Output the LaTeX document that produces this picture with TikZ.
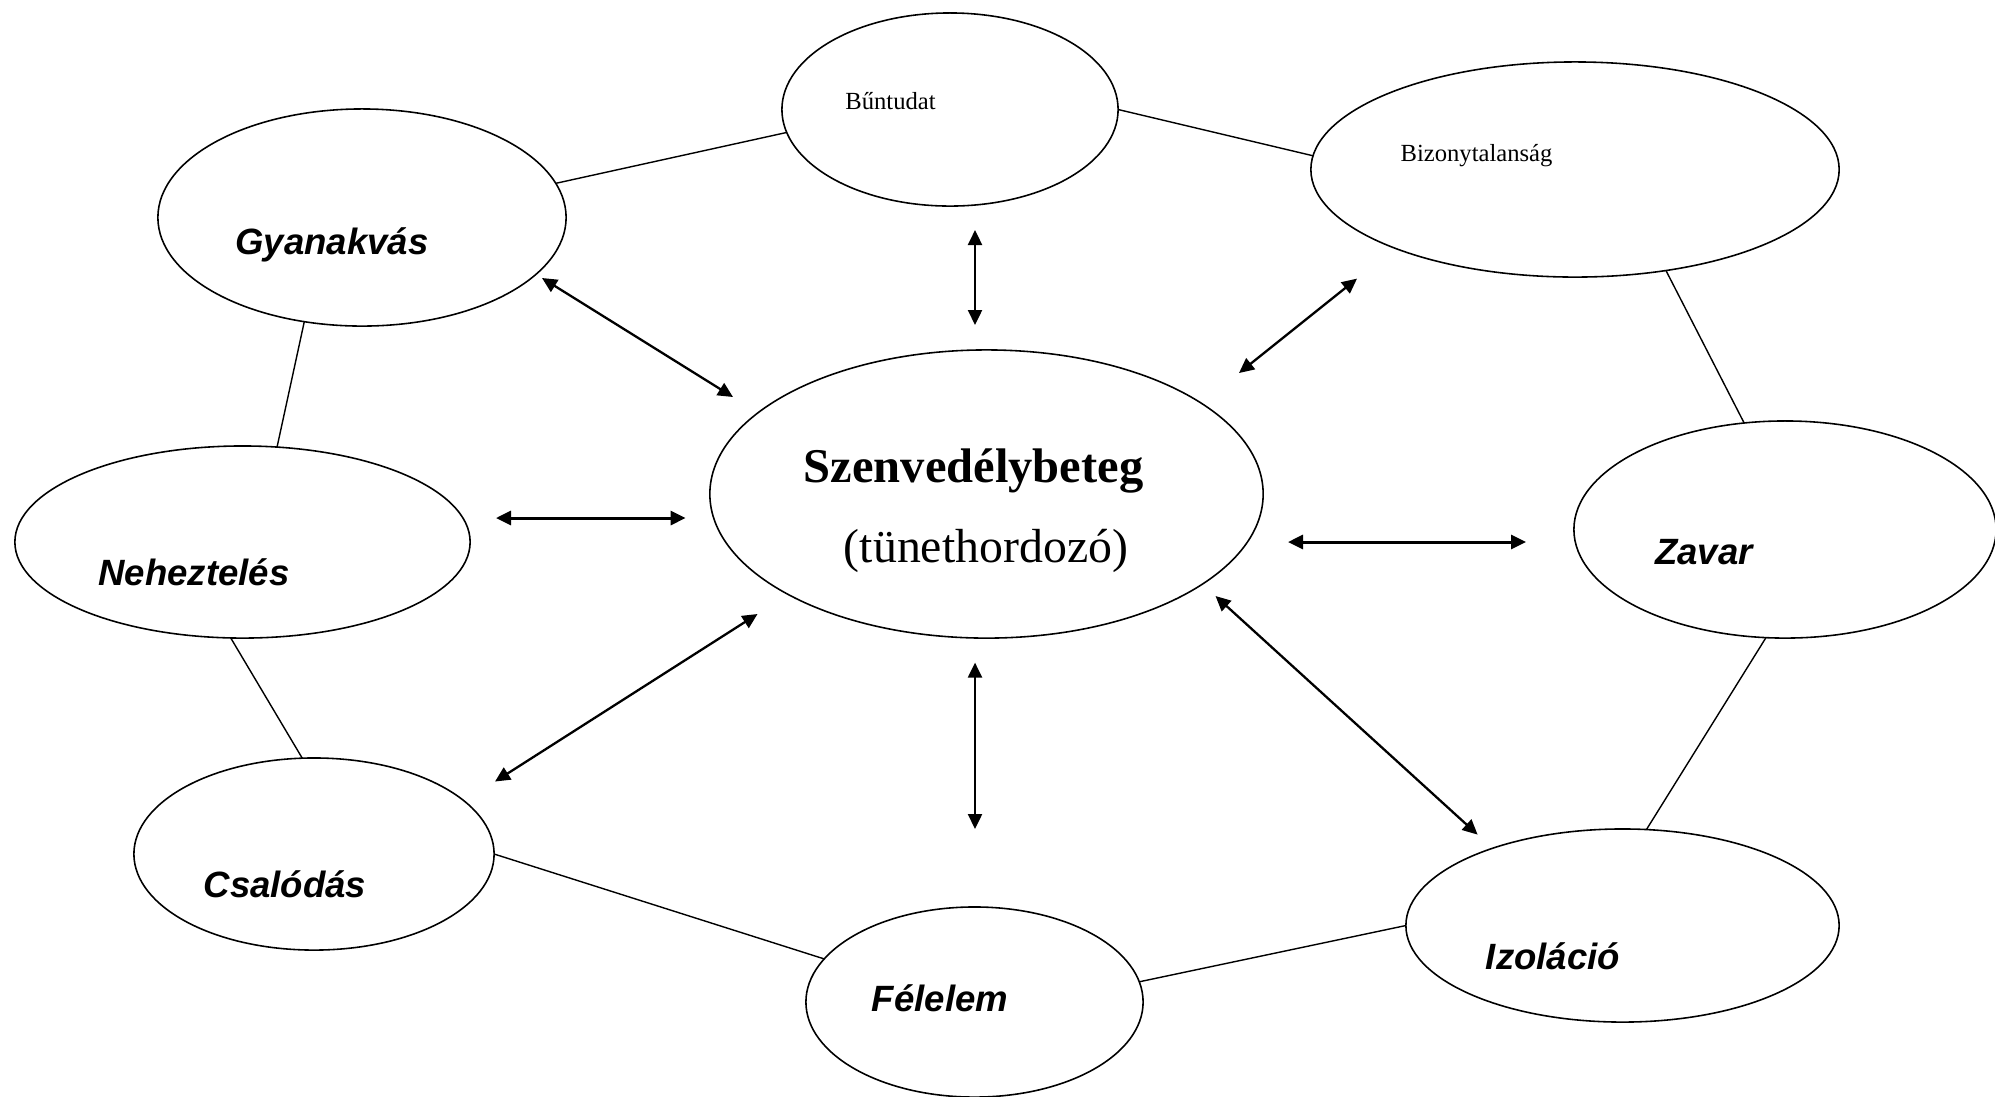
\documentclass[tikz,border=0pt]{standalone}
\usepackage{fontspec}
\setmainfont{Liberation Serif}
\newfontfamily\arialf{Liberation Sans}
\usetikzlibrary{shapes.geometric,arrows.meta}
\tikzset{
  ell/.style={ellipse, draw, line width=0.45pt, inner sep=0pt, outer sep=0pt},
  link/.style={line width=0.4pt},
  dbl/.style={line width=0.65pt, {Triangle[length=0.15cm,width=0.14cm]}-{Triangle[length=0.15cm,width=0.14cm]}},
  dblh/.style={dbl, line width=0.85pt},
  lab/.style={font=\arialf\bfseries\itshape\fontsize{10.4pt}{12pt}\selectfont, anchor=base, inner sep=0pt},
  smalllab/.style={font=\fontsize{7pt}{8pt}\selectfont, anchor=base, inner sep=0pt},
  biglab/.style={anchor=base, inner sep=0pt},
}
\begin{document}
\begin{tikzpicture}[x=0.01cm, y=-0.01cm]
\useasboundingbox (0,0) rectangle (1995,1096);
% ellipses
\node[ell, minimum width=3.36cm, minimum height=1.93cm] (bu) at (950,109.5) {};
\node[ell, minimum width=5.28cm, minimum height=2.15cm] (bi) at (1575,169.5) {};
\node[ell, minimum width=4.08cm, minimum height=2.17cm] (gy) at (362,217.5) {};
\node[ell, minimum width=5.53cm, minimum height=2.88cm] (sz) at (986.5,494) {};
\node[ell, minimum width=4.55cm, minimum height=1.92cm] (ne) at (242.5,542) {};
\node[ell, minimum width=4.22cm, minimum height=2.17cm] (za) at (1785,529.5) {};
\node[ell, minimum width=3.60cm, minimum height=1.92cm] (cs) at (314,854) {};
\node[ell, minimum width=3.37cm, minimum height=1.90cm] (fe) at (974.5,1002) {};
\node[ell, minimum width=4.33cm, minimum height=1.93cm] (iz) at (1622.5,925.5) {};
% labels
\node[smalllab] (bu-t) at (890.5,109) {Bűntudat};
\node[smalllab] (bi-t) at (1476.5,161) {Bizonytalanság};
\node[lab] (gy-t) at (332,254) {Gyanakvás};
\node[biglab, font=\bfseries\fontsize{13.8pt}{16pt}\selectfont] (sz-t) at (973.5,482) {Szenvedélybeteg};
\node[biglab, font=\fontsize{13.6pt}{16pt}\selectfont] (sz-t2) at (986,562) {(tünethordozó)};
\node[lab] (ne-t) at (194,585) {Neheztelés};
\node[lab] (za-t) at (1704,564) {Zavar};
\node[lab] (cs-t) at (285,897.5) {Csalódás};
\node[lab] (fe-t) at (940,1011) {Félelem};
\node[lab] (iz-t) at (1553,969) {Izoláció};
% plain connectors
\draw[link] (gy.10) -- (bu.188);
\draw[link] (bu.0) -- (bi.177.5);
\draw[link] (bi.-48) -- (za.111.5);
\draw[link] (gy.241) -- (ne.70);
\draw[link] (ne.263) -- (cs.97);
\draw[link] (cs.0) -- (fe.164);
\draw[link] (fe.7.5) -- (iz.180);
\draw[link] (iz.76) -- (za.260.6);
% arrow end points
\coordinate (a1s) at (542,278);   \coordinate (a1e) at (733,397);
\coordinate (a2s) at (975,230);   \coordinate (a2e) at (975,325);
\coordinate (a3s) at (1357,278.6);\coordinate (a3e) at (1239,373);
\coordinate (a4s) at (496,518);   \coordinate (a4e) at (685.6,518);
\coordinate (a5s) at (1288,542);  \coordinate (a5e) at (1526,542);
\coordinate (a6s) at (757.5,614); \coordinate (a6e) at (495,781.5);
\coordinate (a7s) at (975,662.6); \coordinate (a7e) at (975,829);
\coordinate (a8s) at (1215.5,596);\coordinate (a8e) at (1477.6,834.6);
\draw[dbl] (a1s) -- (a1e);
\draw[dbl] (a2s) -- (a2e);
\draw[dbl] (a3s) -- (a3e);
\draw[dblh] (a4s) -- (a4e);
\draw[dblh] (a5s) -- (a5e);
\draw[dbl] (a6s) -- (a6e);
\draw[dbl] (a7s) -- (a7e);
\draw[dbl] (a8s) -- (a8e);
\end{tikzpicture}
\end{document}
